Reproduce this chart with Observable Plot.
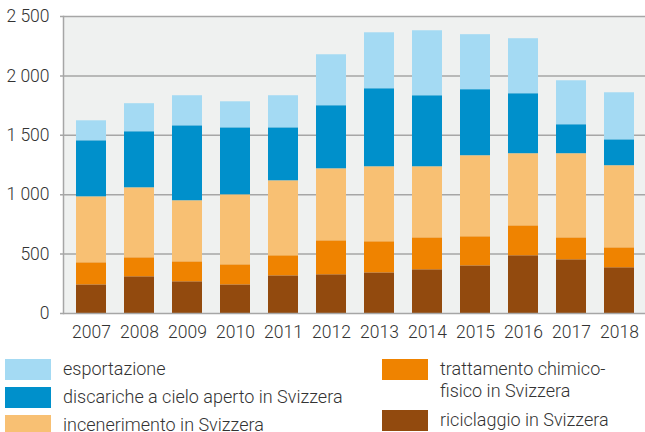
<!DOCTYPE html>
<html>
<head>
<meta charset="utf-8">
<script src="https://cdn.jsdelivr.net/npm/d3@7"></script>
<script src="https://cdn.jsdelivr.net/npm/@observablehq/plot@0.6"></script>
<style>
  body { margin: 0; background: #fff; font-family: Roboto, "Noto Sans", sans-serif; font-weight: 300; color: #333; }
  #wrap { position: relative; width: 645px; height: 432px; overflow: hidden; }
  #chart { position: absolute; left: 0; top: 0; }
  .item { position: absolute; font-size: 18px; line-height: 21.6px; color: #333; white-space: nowrap; }
  .sw { position: absolute; width: 46px; height: 21px; }
</style>
</head>
<body>
<div id="wrap">
  <div id="chart"></div>
  <div id="legend"></div>
</div>
<script>
const years = ["2007","2008","2009","2010","2011","2012","2013","2014","2015","2016","2017","2018"];
const riciclaggio   = [241,309,267,241,317,326,342,368,401,486,452,385];
const trattamento   = [186,160,168,169,169,286,262,269,245,252,185,168];
const incenerimento = [555,589,514,589,631,606,631,598,682,607,708,691];
const discariche    = [472,472,631,564,446,531,657,598,556,505,244,218];
const esportazione  = [168,236,253,219,270,429,471,547,463,463,370,396];

const seriesNames = [
  "riciclaggio in Svizzera",
  "trattamento chimico-fisico in Svizzera",
  "incenerimento in Svizzera",
  "discariche a cielo aperto in Svizzera",
  "esportazione"
];
const seriesValues = [riciclaggio, trattamento, incenerimento, discariche, esportazione];
const seriesColors = ["#924a0e", "#ef8300", "#f8c073", "#0090cb", "#a4daf3"];
const yTicks = [0, 500, 1000, 1500, 2000, 2500];

const data = [];
seriesNames.forEach((s, i) => years.forEach((y, j) => data.push({year: y, series: s, value: seriesValues[i][j]})));

const fmt = d => d3.format(",")(d).replace(",", " ");
const gray = "#a6a6a6";

const chart = Plot.plot({
  width: 645,
  height: 345,
  marginLeft: 63,
  marginRight: 0,
  marginTop: 16,
  marginBottom: 32,
  style: {fontFamily: "Roboto, 'Noto Sans', sans-serif", fontSize: "17.5px", fontWeight: 300, color: "#333", background: "transparent"},
  x: {domain: years, range: [63, 647], paddingInner: 0.38, paddingOuter: 0.2, label: null},
  y: {domain: [0, 2500], label: null},
  color: {domain: seriesNames, range: seriesColors},
  marks: [
    Plot.frame({fill: "#eff1f0", stroke: null}),
    Plot.ruleY(yTicks.slice(1), {stroke: gray, strokeWidth: 1.5, insetLeft: -3}),
    Plot.barY(data, {x: "year", y: "value", fill: "series", order: seriesNames}),
    Plot.ruleY([0], {stroke: gray, strokeWidth: 1.5, insetLeft: -3}),
    Plot.frame({anchor: "left", stroke: gray, strokeWidth: 1.5}),
    Plot.axisY({ticks: yTicks, tickFormat: fmt, tickSize: 0, tickPadding: 14, fill: "#333", fontSize: 17.5}),
    Plot.axisX({tickSize: 0, tickPadding: 12, fill: "#333", fontSize: 17.5})
  ]
});
document.getElementById("chart").appendChild(chart);

// Legend (HTML, below the SVG)
const legendItems = [
  {color: seriesColors[4], x: 5, y: 359, lines: ["esportazione"]},
  {color: seriesColors[3], x: 5, y: 387, lines: ["discariche a cielo aperto in Svizzera"]},
  {color: seriesColors[2], x: 5, y: 415, lines: ["incenerimento in Svizzera"]},
  {color: seriesColors[1], x: 382, y: 359, lines: ["trattamento chimico-", "fisico in Svizzera"]},
  {color: seriesColors[0], x: 382, y: 410, lines: ["riciclaggio in Svizzera"]}
];
const leg = document.getElementById("legend");
legendItems.forEach(it => {
  const sw = document.createElement("div");
  sw.className = "sw";
  sw.style.left = it.x + "px";
  sw.style.top = it.y + "px";
  sw.style.background = it.color;
  leg.appendChild(sw);
  const t = document.createElement("div");
  t.className = "item";
  t.style.left = (it.x + 58) + "px";
  t.style.top = (it.y - 1) + "px";
  t.innerHTML = it.lines.join("<br>");
  leg.appendChild(t);
});
</script>
</body>
</html>
